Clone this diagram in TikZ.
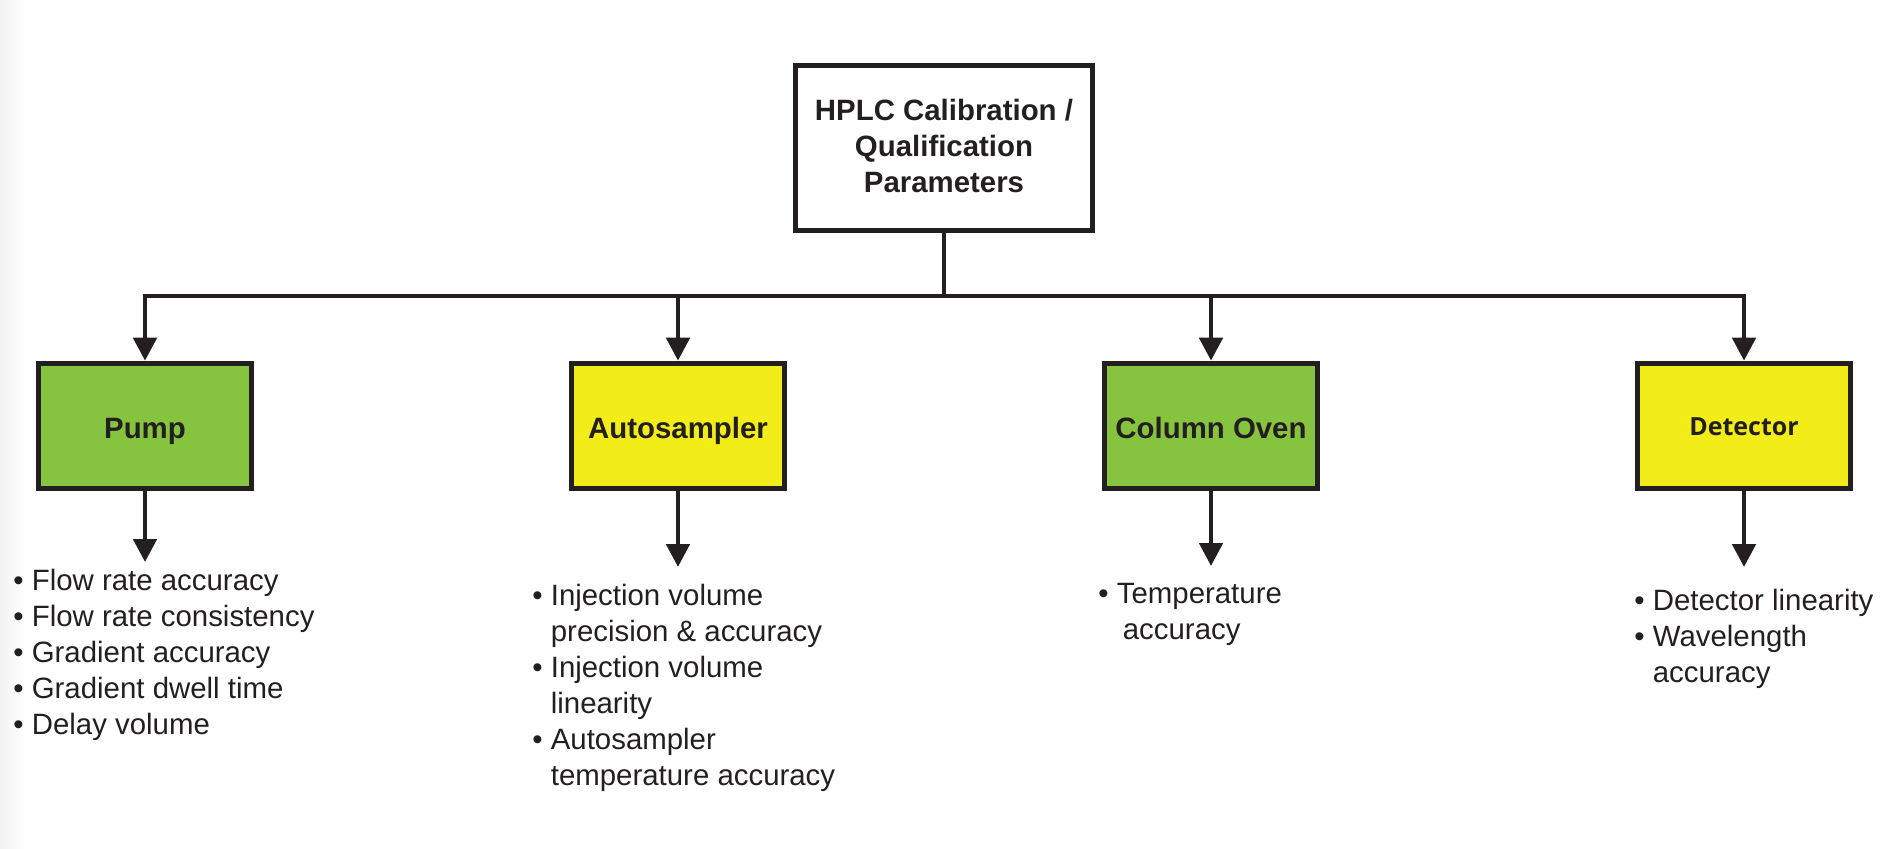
\documentclass[tikz,border=0pt]{standalone}
\usepackage{fontspec}
\setmainfont{Liberation Sans}
\newfontfamily\labelfont{Open Sans}
\usepackage{tikz}
\usetikzlibrary{positioning,arrows.meta}
\usepackage{xcolor}
\definecolor{inkline}{HTML}{231F20}
\definecolor{unitgreen}{HTML}{86C440}
\definecolor{unityellow}{HTML}{F2EC19}

\begin{document}
\begin{tikzpicture}[
    x=0.5pt, y=-0.5pt,
    box/.style={rectangle, draw=inkline, line width=2.4pt, minimum width=106.6pt, minimum height=62.6pt, align=center, text=inkline, font=\bfseries\fontsize{14.7}{18}\selectfont, text height=1.55em, text depth=0.25em},
    topbox/.style={rectangle, draw=inkline, line width=2.4pt, minimum width=148.6pt, minimum height=82.6pt, align=center, text=inkline, font=\bfseries\fontsize{14.7}{18}\selectfont, text depth=2.2pt},
    list/.style={anchor=north west, inner sep=0pt, align=left, text=inkline, font=\fontsize{14.7}{18}\selectfont},
    link/.style={draw=inkline, line width=2.4pt},
    arrow/.style={link, -{Triangle[width=11.5pt, length=11.5pt]}}
]

\useasboundingbox (0,0) rectangle (1902,848);
\shade[left color=black!5, right color=white] (0,0) rectangle (25,848);

\node[topbox] (hplc) at (944,147.7) {HPLC Calibration /\\Qualification\\Parameters};

\node[box, fill=unitgreen] (pump) at (145,425.7) {Pump};
\node[box, fill=unityellow] (sampler) at (678,425.7) {Autosampler};
\node[box, fill=unitgreen] (oven) at (1211,425.7) {Column Oven};
\node[box, fill=unityellow, font=\labelfont\bfseries\fontsize{12.5}{15}\selectfont, text height=1.2em, text depth=0.26em] (detector) at (1744,425.7) {Detector};

\node[list] (pumplist) at (13,569) {\textbullet\ Flow rate accuracy\\
    \textbullet\ Flow rate consistency\\
    \textbullet\ Gradient accuracy\\
    \textbullet\ Gradient dwell time\\
    \textbullet\ Delay volume};
\node[list] (samplerlist) at (532,584) {\textbullet\ Injection volume\\
    \hphantom{\textbullet\ }precision \& accuracy\\
    \textbullet\ Injection volume\\
    \hphantom{\textbullet\ }linearity\\
    \textbullet\ Autosampler\\
    \hphantom{\textbullet\ }temperature accuracy};
\node[list] (ovenlist) at (1098,583) {\textbullet\ Temperature\\
    \hphantom{\textbullet\ }\hspace{3pt}accuracy};
\node[list] (detectorlist) at (1634,589) {\textbullet\ Detector linearity\\
    \textbullet\ Wavelength\\
    \hphantom{\textbullet\ }accuracy};

% bus and feeds
\coordinate (bus) at (944,296);
\draw[link] (hplc.south) -- (bus);
\draw[arrow] (bus) -| (pump.north);
\draw[arrow] (bus) -| (detector.north);
\draw[arrow] (sampler.north |- bus) -- (sampler.north);
\draw[arrow] (oven.north |- bus) -- (oven.north);

% down to the lists
\coordinate (pumptip) at (145,562);
\coordinate (samplertip) at (678,567);
\coordinate (oventip) at (1211,566);
\coordinate (detectortip) at (1744,567);
\draw[arrow] (pump.south) -- (pumptip);
\draw[arrow] (sampler.south) -- (samplertip);
\draw[arrow] (oven.south) -- (oventip);
\draw[arrow] (detector.south) -- (detectortip);

\end{tikzpicture}
\end{document}
